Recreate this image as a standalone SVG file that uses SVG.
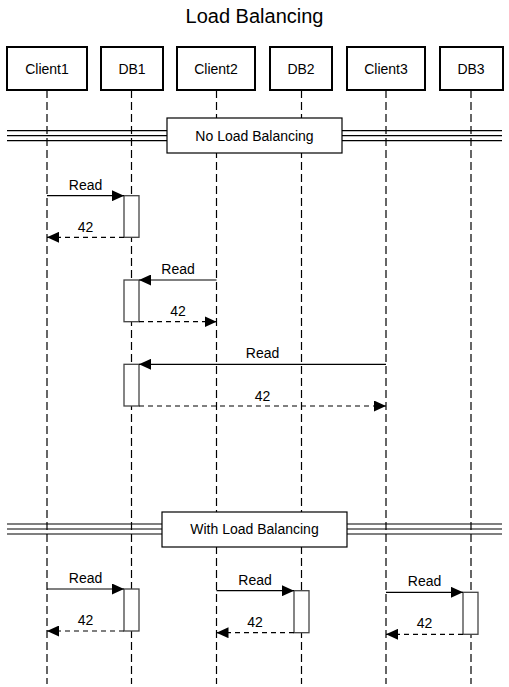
<svg xmlns="http://www.w3.org/2000/svg" width="509" height="687" viewBox="0 0 509 687">
<style>
text{font-family:"Liberation Sans",Arial,sans-serif;fill:#000}
.t{font-size:20px;text-anchor:middle}
.h{font-size:14px;text-anchor:middle}
.m{font-size:14px;text-anchor:middle}
.hb{fill:#fff;stroke:#000;stroke-width:2}
.life{stroke:#000;stroke-width:1.2;stroke-dasharray:8,4;fill:none}
.sep{stroke:#000;stroke-width:1.2;fill:none}
.sb{fill:#fff;stroke:#000;stroke-width:1.2}
.act{fill:#fff;stroke:#444;stroke-width:1.3}
.call{stroke:#000;stroke-width:1.2;fill:none;marker-end:url(#ah)}
.ret{stroke:#000;stroke-width:1.2;fill:none;stroke-dasharray:5,4;marker-end:url(#ah)}
</style>
<defs>
<marker id="ah" viewBox="0 0 12 11" refX="12" refY="5.5" markerWidth="12" markerHeight="11" markerUnits="userSpaceOnUse" orient="auto">
<path d="M0,0 L12,5.5 L0,11 Z" fill="#000"/>
</marker>
</defs>
<rect width="509" height="687" fill="#fff"/>
<text class="t" x="254.5" y="23">Load Balancing</text>
<g id="lifelines">
<line class="life" x1="47" y1="90" x2="47" y2="684"/>
<line class="life" x1="131.5" y1="90" x2="131.5" y2="684"/>
<line class="life" x1="216.5" y1="90" x2="216.5" y2="684"/>
<line class="life" x1="301.5" y1="90" x2="301.5" y2="684"/>
<line class="life" x1="386" y1="90" x2="386" y2="684"/>
<line class="life" x1="471" y1="90" x2="471" y2="684"/>
</g>
<g id="Client1"><rect class="hb" x="7" y="47" width="80" height="43"/><text class="h" x="47" y="73.5">Client1</text></g>
<g id="DB1"><rect class="hb" x="101" y="47" width="62" height="43"/><text class="h" x="132" y="73.5">DB1</text></g>
<g id="Client2"><rect class="hb" x="177" y="47" width="78" height="43"/><text class="h" x="216" y="73.5">Client2</text></g>
<g id="DB2"><rect class="hb" x="270" y="47" width="62" height="43"/><text class="h" x="301" y="73.5">DB2</text></g>
<g id="Client3"><rect class="hb" x="347" y="47" width="78" height="43"/><text class="h" x="386" y="73.5">Client3</text></g>
<g id="DB3"><rect class="hb" x="440" y="47" width="63" height="43"/><text class="h" x="471" y="73.5">DB3</text></g>
<g id="sep1">
<line class="sep" x1="7" y1="130.7" x2="502" y2="130.7"/>
<line class="sep" x1="7" y1="135.7" x2="502" y2="135.7"/>
<line class="sep" x1="7" y1="140.7" x2="502" y2="140.7"/>
<rect class="sb" x="167" y="118" width="175" height="35"/>
<text class="h" x="254.5" y="140.5">No Load Balancing</text>
</g>
<g id="sep2">
<line class="sep" x1="7" y1="524" x2="502" y2="524"/>
<line class="sep" x1="7" y1="529" x2="502" y2="529"/>
<line class="sep" x1="7" y1="534" x2="502" y2="534"/>
<rect class="sb" x="162" y="512" width="185" height="35"/>
<text class="h" x="254.5" y="534">With Load Balancing</text>
</g>
<g id="activations">
<rect class="act" x="124" y="195.7" width="15" height="41.6"/>
<rect class="act" x="124" y="280" width="15" height="41.7"/>
<rect class="act" x="124" y="364.3" width="15" height="41.7"/>
<rect class="act" x="124" y="589" width="15" height="42"/>
<rect class="act" x="294" y="590.7" width="15" height="42"/>
<rect class="act" x="463" y="592.3" width="15" height="42"/>
</g>
<g id="connectors">
<line class="call" x1="47" y1="195.7" x2="124" y2="195.7"/>
<line class="ret" x1="124" y1="237.3" x2="47" y2="237.3"/>
<line class="call" x1="216.5" y1="280" x2="139" y2="280"/>
<line class="ret" x1="139" y1="321.7" x2="216.5" y2="321.7"/>
<line class="call" x1="386" y1="364.3" x2="139" y2="364.3"/>
<line class="ret" x1="139" y1="406" x2="386" y2="406"/>
<line class="call" x1="47" y1="589" x2="124" y2="589"/>
<line class="ret" x1="124" y1="631" x2="47" y2="631"/>
<line class="call" x1="216.5" y1="590.7" x2="294" y2="590.7"/>
<line class="ret" x1="294" y1="632.7" x2="216.5" y2="632.7"/>
<line class="call" x1="386" y1="592.3" x2="463" y2="592.3"/>
<line class="ret" x1="463" y1="634.3" x2="386" y2="634.3"/>
</g>
<g id="labels">
<text class="m" x="85.5" y="189.5">Read</text>
<text class="m" x="85.5" y="232">42</text>
<text class="m" x="178" y="274">Read</text>
<text class="m" x="178" y="316">42</text>
<text class="m" x="262.5" y="358">Read</text>
<text class="m" x="262.5" y="401">42</text>
<text class="m" x="85.5" y="583">Read</text>
<text class="m" x="85.5" y="625">42</text>
<text class="m" x="255" y="585">Read</text>
<text class="m" x="255" y="627">42</text>
<text class="m" x="424.5" y="586">Read</text>
<text class="m" x="424.5" y="628">42</text>
</g>
</svg>
